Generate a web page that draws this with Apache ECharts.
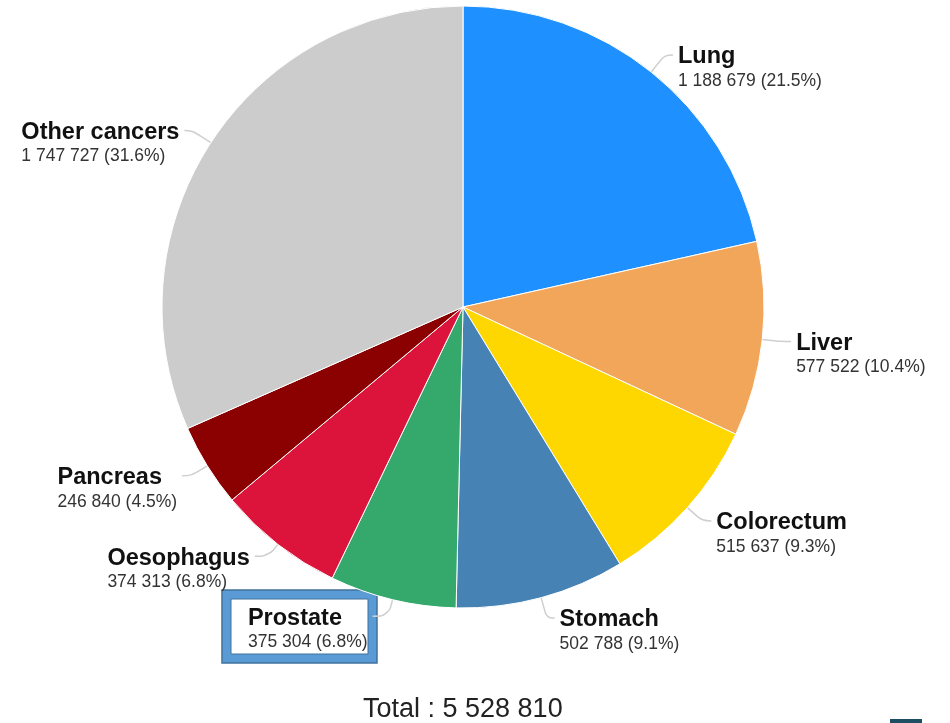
<!DOCTYPE html>
<html>
<head>
<meta charset="utf-8">
<script src="https://cdn.jsdelivr.net/npm/echarts@6/dist/echarts.min.js"></script>
<style>
  html, body { margin: 0; padding: 0; background: #fff; }
  #chart { width: 950px; height: 723px; }
</style>
</head>
<body>
<div id="chart"></div>
<script>
// cancer deaths by site, clockwise from 12 o'clock
const sites = ['Lung', 'Liver', 'Colorectum', 'Stomach', 'Prostate', 'Oesophagus', 'Pancreas', 'Other cancers']
const deaths = [1188679, 577522, 515637, 502788, 375304, 374313, 246840, 1747727]

const colors = ['#1e90ff', '#f2a65a', '#ffd700', '#4682b4', '#35a86b', '#dc143c', '#8b0000', '#cccccc']
// label line [length, length2]; the line ends level with the name line
const lineLen = [[22, 8], [19, 10], [20, 9], [21, 8], [17, 16], [15, 14], [19, 9], [22, 8]]

const total = deaths.reduce((a, b) => a + b, 0)

function fmt(n) {
  return String(n).replace(/\B(?=(\d{3})+(?!\d))/g, ' ')
}

const chart = echarts.init(document.getElementById('chart'))

const option = {
  animation: false,
  backgroundColor: '#fff',
  textStyle: { fontFamily: 'Liberation Sans, Arial, sans-serif' },
  title: {
    text: 'Total : ' + fmt(total),
    left: 358,
    top: 691,
    textStyle: { fontSize: 27, fontWeight: 'normal', color: '#222', fontFamily: 'Liberation Sans' },
  },
  graphic: [
    // highlight box round the Prostate label
    { type: 'rect', shape: { x: 226.5, y: 594.5, width: 146, height: 64 }, style: { fill: 'none', stroke: '#5b9bd5', lineWidth: 9 } },
    { type: 'rect', shape: { x: 222, y: 590, width: 155, height: 73 }, style: { fill: 'none', stroke: '#41719c', lineWidth: 1.5 } },
    { type: 'rect', shape: { x: 231, y: 599, width: 137, height: 55 }, style: { fill: 'none', stroke: '#41719c', lineWidth: 1 } },
    { type: 'rect', shape: { x: 890, y: 719, width: 32, height: 4 }, style: { fill: '#1d4f63' } },
  ],
  series: [{
    type: 'pie',
    center: [463, 307],
    radius: 301,
    startAngle: 90,
    clockwise: true,
    avoidLabelOverlap: false,
    itemStyle: { borderColor: '#fff', borderWidth: 1 },
    label: {
      show: true,
      position: 'outside',
      // top padding puts the name line at the block's middle
      padding: [27, 0, 0, 0],
      formatter: p => '{n|' + p.name + '}\n{v|' + fmt(p.value) + ' (' + (p.value / total * 100).toFixed(1) + '%)}',
      rich: {
        n: { fontSize: 23.5, fontWeight: 'bold', color: '#111', lineHeight: 25, align: 'left', fontFamily: 'Liberation Sans' },
        v: { fontSize: 17.5, color: '#333', lineHeight: 23, align: 'left', fontFamily: 'Liberation Sans' },
      },
    },
    labelLine: { smooth: 0.4, lineStyle: { color: '#cfcfcf', width: 1.5 } },
    emphasis: { disabled: true },
    data: sites.map((s, i) => ({
      name: s,
      value: deaths[i],
      itemStyle: { color: colors[i] },
      labelLine: { length: lineLen[i][0], length2: lineLen[i][1] },
    })),
  }],
}

chart.setOption(option)
</script>
</body>
</html>
